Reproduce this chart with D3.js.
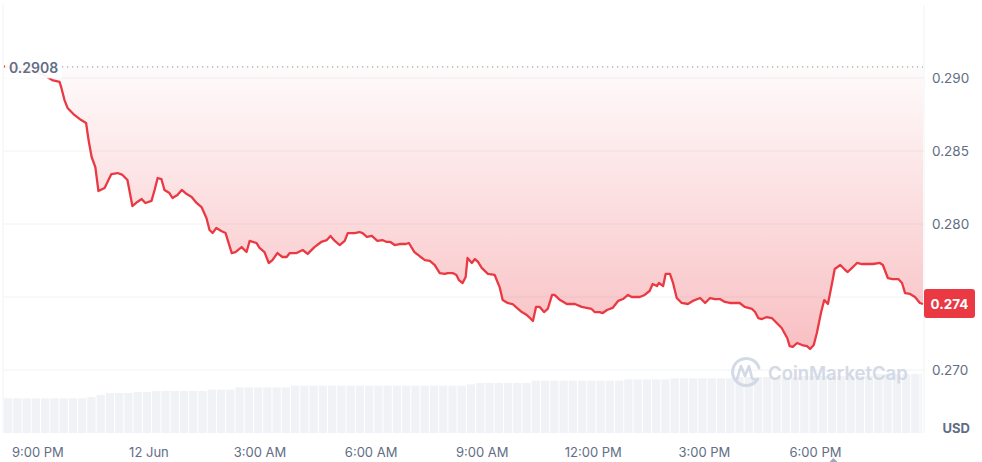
<!DOCTYPE html>
<html><head><meta charset="utf-8">
<script src="https://cdn.jsdelivr.net/npm/d3@7"></script>
<style>
html,body{margin:0;padding:0;background:#fff;}
svg{display:block;font-family:Inter,"Noto Sans",sans-serif;}
</style></head>
<body>
<svg id="chart" width="982" height="462"></svg>
<script>
// minutes offset from 11 Jun 21:00
const minutes = [-54,-13,11,24,36,39,44,49,60,71,
79,83,88,94,99,109,120,130,138,146,
154,162,169,175,185,190,195,201,206,214,
219,227,234,242,250,258,266,274,279,284,
290,298,305,315,321,331,339,344,355,360,
368,375,381,389,397,404,409,420,430,438,
449,460,469,475,482,490,498,503,514,522,
527,534,542,551,559,566,572,579,587,597,
602,611,619,628,636,644,652,660,665,673,
679,683,689,694,697,704,709,714,720,730,
741,749,754,762,770,777,785,793,803,808,
814,821,827,834,838,847,858,871,882,890,
898,903,911,916,923,932,941,949,957,963,
976,984,992,997,1004,1007,1014,1018,1025,1030,
1036,1044,1054,1062,1074,1082,1090,1098,1106,1114,
1122,1133,1138,1146,1158,1163,1168,1174,1182,1190,
1198,1206,1215,1219,1224,1231,1239,1247,1252,1258,
1263,1270,1275,1281,1288,1292,1301,1309,1313,1320,
1328,1336,1344,1354,1365,1370,1378,1386,1395,1401,
1406,1414,1422,1430,1435];
const prices = [0.2908,0.29055,0.29021,0.28986,0.28973,0.28932,0.28849,0.28795,0.28747,0.28712,
0.28692,0.28575,0.28459,0.28390,0.28226,0.28247,0.28342,0.28349,0.28336,0.28301,
0.28123,0.28151,0.28171,0.28144,0.28158,0.28233,0.28315,0.28308,0.28233,0.28212,
0.28178,0.28199,0.28233,0.28205,0.28185,0.28144,0.28116,0.28041,0.27959,0.27938,
0.27973,0.27952,0.27938,0.27801,0.27808,0.27842,0.27808,0.27884,0.27870,0.27836,
0.27808,0.27733,0.27753,0.27801,0.27774,0.27774,0.27801,0.27801,0.27822,0.27795,
0.27842,0.27877,0.27890,0.27918,0.27884,0.27856,0.27884,0.27938,0.27938,0.27945,
0.27938,0.27911,0.27918,0.27884,0.27890,0.27877,0.27877,0.27856,0.27863,0.27863,
0.27870,0.27808,0.27781,0.27753,0.27747,0.27719,0.27664,0.27658,0.27664,0.27664,
0.27651,0.27616,0.27596,0.27637,0.27767,0.27733,0.27760,0.27740,0.27699,0.27658,
0.27651,0.27568,0.27479,0.27459,0.27452,0.27425,0.27397,0.27377,0.27336,0.27432,
0.27432,0.27397,0.27418,0.27514,0.27514,0.27479,0.27452,0.27452,0.27432,0.27425,
0.27418,0.27397,0.27397,0.27390,0.27411,0.27425,0.27473,0.27486,0.27514,0.27500,
0.27500,0.27514,0.27541,0.27589,0.27575,0.27596,0.27575,0.27658,0.27658,0.27596,
0.27493,0.27459,0.27452,0.27473,0.27493,0.27459,0.27493,0.27486,0.27486,0.27466,
0.27459,0.27459,0.27459,0.27432,0.27418,0.27397,0.27356,0.27349,0.27363,0.27356,
0.27322,0.27288,0.27219,0.27164,0.27158,0.27185,0.27171,0.27164,0.27144,0.27171,
0.27253,0.27397,0.27479,0.27452,0.27603,0.27692,0.27719,0.27685,0.27671,0.27699,
0.27733,0.27726,0.27726,0.27726,0.27733,0.27719,0.27630,0.27623,0.27623,0.27596,
0.27527,0.27521,0.27500,0.27459,0.27452];
// volume per 15-min bucket, starting at minute -54 (arbitrary units)
const volumeStart = -54;
const volumes = [34.7,34.7,34.7,34.7,34.7,34.7,34.7,34.7,34.7,36,
38,40,40,40,41,41,42,42,42,42,
42,42,43.3,43.3,43.3,45.7,45.7,45.7,45.7,45.7,
45.7,47.3,47.3,47.3,47.3,47.3,47.3,47.3,47.3,47.3,
47.3,47.3,47.3,47.3,47.3,47.3,47.3,47.3,47.3,47.3,
48.7,50,50,50,50,50,50,52.3,52.3,52.3,
52.3,52.3,52.3,52.3,52.3,52.3,52.3,53.7,53.7,53.7,
53.7,53.7,54.7,54.7,54.7,54.7,54.7,54.7,54.7,56,
56,56,56,56,56,56,57,57,57,57,
57,57,57,57,59,59,59,59,59,59];
const gridTicks = [0.270,0.275,0.280,0.285,0.290];
const labelTicks = [0.270,0.280,0.285,0.290]; // 0.275 is hidden behind the price badge
const baselinePrice = 0.2908;
const lastPrice = 0.274;

const base = new Date(2024,5,11,21,0,0);
const toDate = m => new Date(base.getTime() + m*60000);
const data = minutes.map((m,i)=>({t:toDate(m), p:prices[i]}));

const svg = d3.select("#chart");
const L = 4, R = 923;
const x = d3.scaleTime().domain([toDate(minutes[0]), toDate(minutes[minutes.length-1])]).range([L,R]);
const y = d3.scaleLinear().domain([0.270,0.290]).range([370,78]);
const yv = d3.scaleLinear().domain([0,70]).range([433,363]);

const defs = svg.append("defs");
const grad = defs.append("linearGradient").attr("id","fillGrad")
  .attr("gradientUnits","userSpaceOnUse").attr("x1",0).attr("x2",0).attr("y1",y(baselinePrice)).attr("y2",350);
grad.append("stop").attr("offset",0).attr("stop-color","#ea3943").attr("stop-opacity",0.02);
grad.append("stop").attr("offset",1).attr("stop-color","#ea3943").attr("stop-opacity",0.32);

// frame lines
svg.append("line").attr("x1",L-1).attr("x2",L-1).attr("y1",5).attr("y2",433).attr("stroke","#eff2f5");
svg.append("line").attr("x1",R+1).attr("x2",R+1).attr("y1",5).attr("y2",433).attr("stroke","#eff2f5");

// gridlines
svg.append("g").selectAll("line").data(gridTicks).join("line")
  .attr("x1",L).attr("x2",R+1).attr("y1",d=>y(d)).attr("y2",d=>y(d))
  .attr("stroke","#eff2f5").attr("stroke-width",1);

// volume bars
svg.append("g").selectAll("rect").data(volumes).join("rect")
  .attr("x",(d,i)=>x(toDate(volumeStart+15*i)))
  .attr("width",(d,i)=>Math.max(0, Math.min(R, x(toDate(volumeStart+15*(i+1)))) - x(toDate(volumeStart+15*i)) - 1))
  .attr("y",d=>yv(d)).attr("height",d=>433-yv(d))
  .attr("fill","#f0f2f5");

// area
const area = d3.area().x(d=>x(d.t)).y0(y(baselinePrice)).y1(d=>y(d.p));
svg.append("path").datum(data).attr("d",area).attr("fill","url(#fillGrad)");

// baseline dotted
svg.append("line").attr("x1",62).attr("x2",R).attr("y1",y(baselinePrice)+0.5).attr("y2",y(baselinePrice)+0.5)
  .attr("stroke","#a1a7bb").attr("stroke-width",1.2).attr("stroke-dasharray","1.2,3.8");

// line
const line = d3.line().x(d=>x(d.t)).y(d=>y(d.p));
svg.append("path").datum(data).attr("d",line).attr("fill","none")
  .attr("stroke","#ea3943").attr("stroke-width",2.3).attr("stroke-linejoin","round");

// baseline label
const bl = svg.append("g");
bl.append("rect").attr("x",5).attr("y",y(baselinePrice)-9).attr("width",57).attr("height",21)
  .attr("fill","#fff").attr("opacity",0.93);
bl.append("text").attr("x",9).attr("y",y(baselinePrice)+7).text(d3.format(".4f")(baselinePrice))
  .attr("font-size",14).attr("font-weight",600).attr("fill","#616e85");

// watermark
const wm = svg.append("g").attr("opacity",0.9);
wm.append("path").attr("d","M 757 380 A 13.5 13.5 0 1 1 759 368")
  .attr("fill","none").attr("stroke","#cfd6e4").attr("stroke-width",3).attr("stroke-linecap","round");
wm.append("path").attr("d","M 737 379 L 741 366 L 745 376 L 749 366 L 752 378 Q 754 381 758 379")
  .attr("fill","none").attr("stroke","#cfd6e4").attr("stroke-width",2.6).attr("stroke-linejoin","round").attr("stroke-linecap","round");
wm.append("text").attr("x",768).attr("y",380).text("CoinMarketCap")
  .attr("font-size",18.5).attr("font-weight",600).attr("fill","#cfd6e4");

// x axis
const fmt = d => (d.getHours()===0 ? d3.timeFormat("%-d %b")(d) : d3.timeFormat("%-I:%M %p")(d));
const xa = svg.append("g").attr("transform","translate(0,433)")
  .call(d3.axisBottom(x).ticks(d3.timeHour.every(3)).tickFormat(fmt).tickSize(0).tickPadding(15));
xa.select(".domain").remove();
xa.selectAll("text").attr("font-size",13).attr("fill","#616e85").attr("font-family","Inter,sans-serif");

// y axis
const ya = svg.append("g").attr("transform",`translate(${R+1},0)`)
  .call(d3.axisRight(y).tickValues(labelTicks).tickFormat(d3.format(".3f")).tickSize(0).tickPadding(8));
ya.select(".domain").remove();
ya.selectAll("text").attr("font-size",13.5).attr("fill","#616e85").attr("font-family","Inter,sans-serif");

svg.append("text").attr("x",970).attr("y",433).attr("text-anchor","end").text("USD")
  .attr("font-size",13).attr("font-weight",700).attr("fill","#616e85");

// last price badge
const ly = y(prices[prices.length-1]);
svg.append("rect").attr("x",R+1).attr("y",ly-15).attr("width",51).attr("height",29).attr("rx",3)
  .attr("fill","#ea3943");
svg.append("text").attr("x",R+1+25.5).attr("y",ly+4.5).attr("text-anchor","middle").text(d3.format(".3f")(lastPrice))
  .attr("font-size",13.5).attr("font-weight",700).attr("fill","#fff");

// small caret marker
svg.append("path").attr("d",`M ${x(toDate(1290))-4} 462 L ${x(toDate(1290))} 458 L ${x(toDate(1290))+4} 462 Z`).attr("fill","#a1a7bb");
</script>
</body></html>
